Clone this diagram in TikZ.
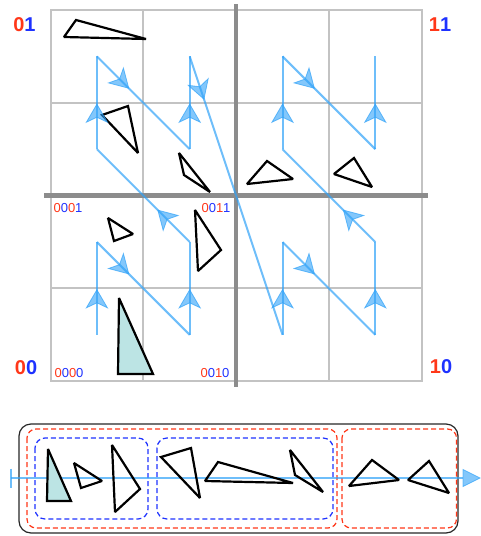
\documentclass[tikz,border=0pt]{standalone}
\usepackage{fontspec}
\setmainfont{Liberation Sans}
\usetikzlibrary{calc}
\definecolor{zred}{RGB}{255,55,25}
\definecolor{zblue}{RGB}{30,50,255}
\definecolor{zline}{RGB}{48,162,248}
\definecolor{gridgray}{RGB}{195,195,195}
\definecolor{axisgray}{RGB}{140,140,140}
\definecolor{tfill}{RGB}{188,228,228}
\tikzset{
  gridline/.style={draw=gridgray, line width=2pt, line cap=rect},
  axisline/.style={draw=axisgray, line width=4.5pt},
  tri/.style={draw=black, line width=2.2pt, line join=miter, miter limit=2},
  zseg/.style={draw=zline, draw opacity=0.7, line width=2pt},
  zhead/.style={fill=zline, fill opacity=0.6, draw=zline, draw opacity=0.7, line width=0.8pt},
  biglabel/.style={font=\fontsize{20}{24}\selectfont\bfseries, inner sep=0pt},
  smalllabel/.style={font=\fontsize{13}{15}\selectfont, inner sep=0pt},
  outerbox/.style={draw=black!85, line width=1.2pt, rounded corners=12pt},
  redbox/.style={draw=zred, line width=1.2pt, dash pattern=on 5pt off 3pt, rounded corners=9pt},
  bluebox/.style={draw=zblue, line width=1.2pt, dash pattern=on 5pt off 3pt, rounded corners=10pt},
  axisz/.style={draw=zline, draw opacity=0.7, line width=2.5pt},
}
\begin{document}
\begin{tikzpicture}[x=1pt,y=-1pt]
\useasboundingbox (0,0) rectangle (480,536);
% grid
\foreach \i in {0,...,4} {
  \draw[gridline] ({50.5+92.8*\i},10) -- ({50.5+92.8*\i},381.2);
  \draw[gridline] (50.5,{10+92.8*\i}) -- (421.7,{10+92.8*\i});
}
\draw[axisline] (236,4) -- (236,387);
\draw[axisline] (44,195.4) -- (428,195.4);
% cell centres
\foreach \i in {0,...,3} \foreach \j in {0,...,3}
  \coordinate (p\i\j) at ({96.9+92.8*\i},{334.8-92.8*\j});
% triangles in grid
\draw[tri] (64,37) -- (76,20) -- (146,39) -- cycle;
\draw[tri] (102,115) -- (128,106) -- (138,153) -- cycle;
\draw[tri] (179,153) -- (184,175) -- (210,192) -- cycle;
\draw[tri] (247,184) -- (267,161) -- (293,179) -- cycle;
\draw[tri] (334,174) -- (354,158) -- (372,187) -- cycle;
\draw[tri] (108,218) -- (133,234) -- (114,241) -- cycle;
\draw[tri] (195,210) -- (221,250) -- (198,271) -- cycle;
\draw[tri, fill=tfill] (119,298) -- (153,374) -- (118,374) -- cycle;
% Z-order curve
\foreach \a/\b in {p00/p01,p01/p10,p10/p11,p11/p02,p02/p03,p03/p12,p12/p13,p13/p20,
                   p20/p21,p21/p30,p30/p31,p31/p22,p22/p23,p23/p32,p32/p33} {
  \draw[zseg] (\a) -- (\b);
  \coordinate (tp) at ($(\a)!45pt!(\b)$);
  \coordinate (bk) at ($(\a)!27pt!(\b)$);
  \coordinate (nt) at ($(\a)!32pt!(\b)$);
  \filldraw[zhead] (tp) -- ($(bk)!10.5pt!90:(\b)$) -- (nt) -- ($(bk)!10.5pt!-90:(\b)$) -- cycle;
}
% labels
\node[biglabel] (l01) at (24.5,25) {\textcolor{zred}{0}\textcolor{zblue}{1}};
\node[biglabel] (l11) at (440,25) {\textcolor{zred}{1}\textcolor{zblue}{1}};
\node[biglabel] (l00) at (26,368) {\textcolor{zred}{0}\textcolor{zblue}{0}};
\node[biglabel] (l10) at (441,367) {\textcolor{zred}{1}\textcolor{zblue}{0}};
\node[smalllabel] (s0001) at (68,208) {\textcolor{zred}{0}\textcolor{zblue}{0}\textcolor{zred}{0}\textcolor{zblue}{1}};
\node[smalllabel] (s0011) at (216,208) {\textcolor{zred}{0}\textcolor{zblue}{0}\textcolor{zred}{1}\textcolor{zblue}{1}};
\node[smalllabel] (s0000) at (69,373) {\textcolor{zred}{0}\textcolor{zblue}{0}\textcolor{zred}{0}\textcolor{zblue}{0}};
\node[smalllabel] (s0010) at (215,373) {\textcolor{zred}{0}\textcolor{zblue}{0}\textcolor{zred}{1}\textcolor{zblue}{0}};
% bottom strip
\draw[outerbox] (19,424) rectangle (458,533);
\draw[redbox] (27,429) rectangle (337,528);
\draw[redbox] (342,429) rectangle (456.5,528);
\draw[bluebox] (35,438) rectangle (148,519);
\draw[bluebox] (157,438) rectangle (333,519);
\coordinate (axs) at (11,478);
\coordinate (axe) at (463,478);
\coordinate (axt) at (480,478);
\draw[axisz] (axs) -- (axe);
\draw[axisz] ($(axs)+(0,-9.5)$) -- ($(axs)+(0,9.5)$);
\filldraw[zhead] ($(axe)+(0,-8.5)$) -- (axt) -- ($(axe)+(0,8.5)$) -- cycle;
\draw[tri, fill=tfill] (48,449) -- (71,501) -- (47,501) -- cycle;
\draw[tri] (74,463) -- (102,481) -- (81,488) -- cycle;
\draw[tri] (112,445) -- (140,489) -- (115,512) -- cycle;
\draw[tri] (161,457) -- (191,448) -- (200,498) -- cycle;
\draw[tri] (205,481) -- (218,462) -- (293,483) -- cycle;
\draw[tri] (290,450) -- (295,475) -- (323,492) -- cycle;
\draw[tri] (349,486) -- (372,460) -- (399,480) -- cycle;
\draw[tri] (408,480) -- (429,461) -- (449,493) -- cycle;
\end{tikzpicture}
\end{document}
